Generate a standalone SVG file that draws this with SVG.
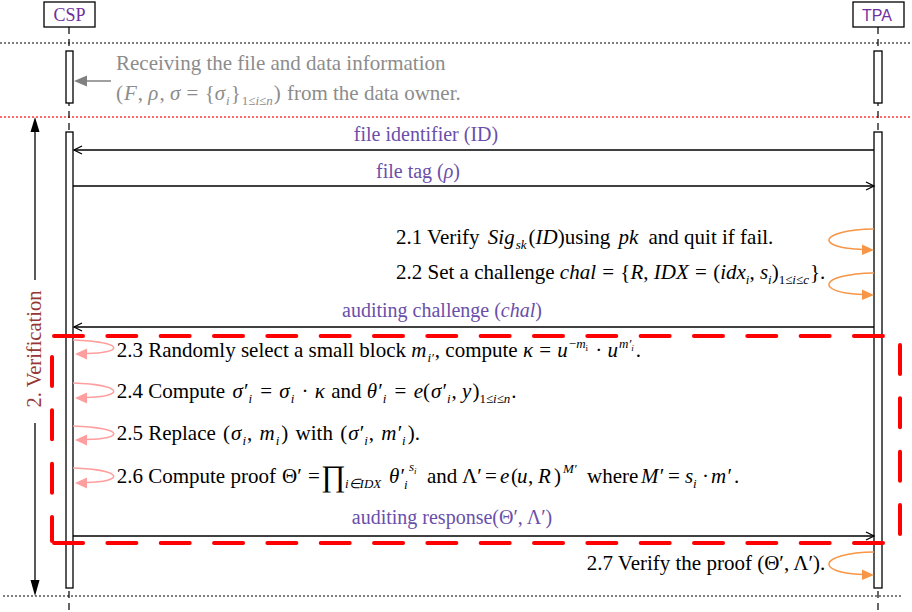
<svg xmlns="http://www.w3.org/2000/svg" width="912" height="612" viewBox="0 0 912 612">
<style>
text{font-family:"Liberation Serif","Times New Roman",serif;font-size:21px;fill:#000}
.i{font-style:italic}
.s{font-size:13px}
.ss{font-size:9px}
.lbl{fill:#6A4FAA;font-size:20px;text-anchor:middle}
.gray{fill:#8C8C8C}
.hdr{fill:#7030A0}
.box{fill:#fff;stroke:#000;stroke-width:1.3}
.life{stroke:#000;stroke-width:1.2;stroke-dasharray:7 5;fill:none}
.msg{stroke:#000;stroke-width:1.3;fill:none}
.orange{stroke:#F79646;stroke-width:1.5;fill:none}
.pink{stroke:#FF9E9E;stroke-width:1.5;fill:none}
.red{stroke:#FF0000;stroke-width:4;stroke-dasharray:29 24.33;stroke-linecap:round;fill:none}
.dot{stroke:#000;stroke-width:1.2;stroke-dasharray:2 2;fill:none}
</style>

<g id="separators">
<line x1="0" y1="43" x2="912" y2="43" class="dot"/>
<line x1="0" y1="117" x2="912" y2="117" class="dot" style="stroke:#FF3B3B;stroke-width:1.5"/>
<line x1="3" y1="596" x2="902" y2="596" class="dot"/>
</g>

<g id="lifelines">
<line x1="69" y1="27" x2="69" y2="612" class="life"/>
<line x1="878" y1="27" x2="878" y2="612" class="life"/>
</g>

<g id="csp">
<rect x="44" y="2" width="51" height="25" class="box"/>
<text x="69.5" y="21" text-anchor="middle" class="hdr" style="font-size:18px">CSP</text>
<rect x="66" y="51" width="7" height="52" class="box"/>
<rect x="66" y="132" width="7" height="456" class="box"/>
</g>

<g id="tpa">
<rect x="853" y="2" width="51" height="25" class="box"/>
<text x="877" y="21" text-anchor="middle" class="hdr" style="font-family:'Liberation Sans',Arial,sans-serif;font-size:16px">TPA</text>
<rect x="874" y="51" width="8" height="52" class="box"/>
<rect x="874" y="132" width="8" height="456" class="box"/>
</g>

<g id="receive">
<line x1="111" y1="81" x2="84" y2="81" stroke="#808080" stroke-width="1.5"/>
<polygon points="74,81 87,75.5 87,86.5" fill="#808080"/>
<text x="116" y="70" class="gray">Receiving the file and data information</text>
<text x="116" y="100" class="gray">(<tspan class="i" dx="1">F</tspan><tspan dx="1">, </tspan><tspan class="i">ρ</tspan><tspan dx="1">, </tspan><tspan class="i">σ</tspan><tspan dx="1"> = </tspan><tspan dx="1">{</tspan><tspan class="i">σ</tspan><tspan class="s i" dy="5" dx="1">i</tspan><tspan dy="-5" dx="1">}</tspan><tspan class="s" dy="5" dx="1">1≤<tspan class="i">i</tspan>≤<tspan class="i">n</tspan></tspan><tspan dy="-5" dx="1">)</tspan><tspan dx="1"> from the data owner.</tspan></text>
</g>

<g id="verification">
<line x1="35" y1="128" x2="35" y2="280" stroke="#000" stroke-width="1.3"/>
<line x1="35" y1="423" x2="35" y2="584" stroke="#000" stroke-width="1.3"/>
<polygon points="35,117 30.5,132 39.5,132" fill="#000"/>
<polygon points="35,596 30.5,580 39.5,580" fill="#000"/>
<text transform="translate(41,349) rotate(-90)" text-anchor="middle" style="fill:#953735;font-size:20.5px">2. Verification</text>
</g>

<g id="connectors">
<line x1="874" y1="150" x2="74" y2="150" class="msg"/>
<polyline points="82,146 74,150 82,154" class="msg"/>
<line x1="73" y1="186" x2="873" y2="186" class="msg"/>
<polyline points="866,182 874,186 866,190" class="msg"/>
<line x1="874" y1="327" x2="74" y2="327" class="msg"/>
<polyline points="82,323 74,327 82,331" class="msg"/>
<line x1="73" y1="536" x2="873" y2="536" class="msg"/>
<polyline points="866,532 874,536 866,540" class="msg"/>

<path d="M874,229 C818,230 814,248 863,249.5" class="orange"/>
<polygon points="874,250 862,244.5 862,255" fill="#F79646"/>
<path d="M874,273 C818,274 814,293 863,294.5" class="orange"/>
<polygon points="874,295 862,289.5 862,300" fill="#F79646"/>
<path d="M874,552 C818,553 814,573 863,574.5" class="orange"/>
<polygon points="874,575 862,569.5 862,580" fill="#F79646"/>

<path d="M73,340 C126,342 124,353 86,353.5" class="pink"/>
<polygon points="75,354 87,348.5 87,359.5" fill="#FF9E9E"/>
<path d="M73,383 C126,385 124,397 86,397.5" class="pink"/>
<polygon points="75,398 87,392.5 87,403.5" fill="#FF9E9E"/>
<path d="M73,426 C126,428 124,439 86,439.5" class="pink"/>
<polygon points="75,440 87,434.5 87,445.5" fill="#FF9E9E"/>
<path d="M73,468 C126,470 124,482 86,482.5" class="pink"/>
<polygon points="75,483 87,477.5 87,488.5" fill="#FF9E9E"/>
</g>

<g id="labels">
<text x="426" y="141" class="lbl">file identifier (ID)</text>
<text x="418" y="178" class="lbl">file tag (<tspan class="i">ρ</tspan>)</text>
<text x="442" y="317" class="lbl">auditing challenge (<tspan class="i">chal</tspan>)</text>
<text x="452" y="524" class="lbl">auditing response(Θ′, Λ′)</text>
</g>

<g id="steps">
<text x="396" y="244">2.1 Verify <tspan dx="3" class="i">Sig</tspan><tspan class="s i" dy="5" dx="1">sk</tspan><tspan dy="-5" dx="2">(</tspan><tspan class="i">ID</tspan>)using <tspan class="i" dx="3">pk</tspan><tspan dx="5"> and quit if fail.</tspan></text>

<text x="396" y="279">2.2 Set a challenge <tspan class="i">chal</tspan><tspan dx="1"> = </tspan><tspan dx="1">{</tspan><tspan class="i">R</tspan>, <tspan class="i">IDX</tspan><tspan dx="1"> = </tspan><tspan dx="1">(</tspan><tspan class="i">idx</tspan><tspan class="s i" dy="5">i</tspan><tspan dy="-5">, </tspan><tspan class="i">s</tspan><tspan class="s i" dy="5">i</tspan><tspan dy="-5">)</tspan><tspan class="s" dy="5">1≤<tspan class="i">i</tspan>≤<tspan class="i">c</tspan></tspan><tspan dy="-5" dx="1">}.</tspan></text>

<text x="116.7" y="357">2.3 Randomly select a small block <tspan class="i">m</tspan><tspan class="s i" dy="5" dx="1">i′</tspan><tspan dy="-5" dx="1">, compute </tspan><tspan class="i">κ</tspan><tspan dx="1"> = </tspan><tspan class="i" dx="1">u</tspan><tspan class="s" dy="-9" dx="1">−<tspan class="i">m</tspan></tspan><tspan class="ss" dy="3">i</tspan><tspan dy="6" dx="2"> · </tspan><tspan class="i">u</tspan><tspan class="s i" dy="-9" dx="1">m′</tspan><tspan class="ss i" dy="3">i</tspan><tspan dy="6" dx="2">.</tspan></text>

<text x="116.7" y="398">2.4 Compute <tspan class="i" dx="2">σ′</tspan><tspan class="s i" dy="5" dx="1">i</tspan><tspan dy="-5" dx="3"> = </tspan><tspan class="i" dx="2">σ</tspan><tspan class="s i" dy="5" dx="1">i</tspan><tspan dy="-5" dx="2"> · </tspan><tspan class="i" dx="1">κ</tspan><tspan dx="1"> and </tspan><tspan class="i">θ′</tspan><tspan class="s i" dy="5" dx="1">i</tspan><tspan dy="-5" dx="3"> = </tspan><tspan class="i" dx="2">e</tspan>(<tspan class="i" dx="1">σ′</tspan><tspan class="s i" dy="5" dx="1">i</tspan><tspan dy="-5" dx="1">, </tspan><tspan class="i">y</tspan><tspan dx="1">)</tspan><tspan class="s" dy="5">1≤<tspan class="i">i</tspan>≤<tspan class="i">n</tspan></tspan><tspan dy="-5" dx="1">.</tspan></text>

<text x="116.7" y="440">2.5 Replace <tspan dx="2">(</tspan><tspan class="i" dx="1">σ</tspan><tspan class="s i" dy="5" dx="1">i</tspan><tspan dy="-5" dx="1">, </tspan><tspan class="i" dx="2">m</tspan><tspan class="s i" dy="5" dx="1">i</tspan><tspan dy="-5" dx="2">)</tspan><tspan dx="2"> with </tspan><tspan dx="2">(</tspan><tspan class="i" dx="1">σ′</tspan><tspan class="s i" dy="5" dx="1">i</tspan><tspan dy="-5" dx="1">, </tspan><tspan class="i" dx="2">m′</tspan><tspan class="s i" dy="5" dx="1">i</tspan><tspan dy="-5" dx="2">).</tspan></text>

<text x="116.7" y="483">2.6 Compute proof<tspan x="282">Θ′</tspan><tspan x="308">=</tspan><tspan x="321" style="font-size:30px" dy="3">∏</tspan><tspan class="s i" dy="2" x="345">i∈IDX</tspan><tspan class="i" dy="-5" x="389">θ′</tspan><tspan class="s i" dy="6" x="404">i</tspan><tspan class="s i" dy="-18" x="409">s</tspan><tspan class="ss i" dy="3">i</tspan><tspan dy="9" x="427">and</tspan><tspan x="462">Λ′</tspan><tspan x="485">=</tspan><tspan x="500" class="i">e</tspan><tspan x="511">(</tspan><tspan x="517" class="i">u</tspan><tspan x="528">,</tspan><tspan x="538" class="i">R</tspan><tspan x="554">)</tspan><tspan class="s i" dy="-10" x="563">M′</tspan><tspan dy="10" x="587">where</tspan><tspan x="641" class="i">M′</tspan><tspan x="668">=</tspan><tspan x="685" class="i">s</tspan><tspan class="s i" dy="5" x="693">i</tspan><tspan dy="-5" x="702">·</tspan><tspan x="711" class="i">m′</tspan><tspan x="734">.</tspan></text>

<text x="586.7" y="570">2.7 Verify the proof (Θ′, Λ′).</text>
</g>

<g id="highlight">
<line x1="54" y1="336" x2="900" y2="336" class="red"/>
<line x1="900" y1="345" x2="900" y2="543" class="red"/>
<line x1="883" y1="543" x2="52" y2="543" class="red"/>
<line x1="52" y1="541" x2="52" y2="336" class="red" style="stroke-dashoffset:5"/>
</g>
</svg>
